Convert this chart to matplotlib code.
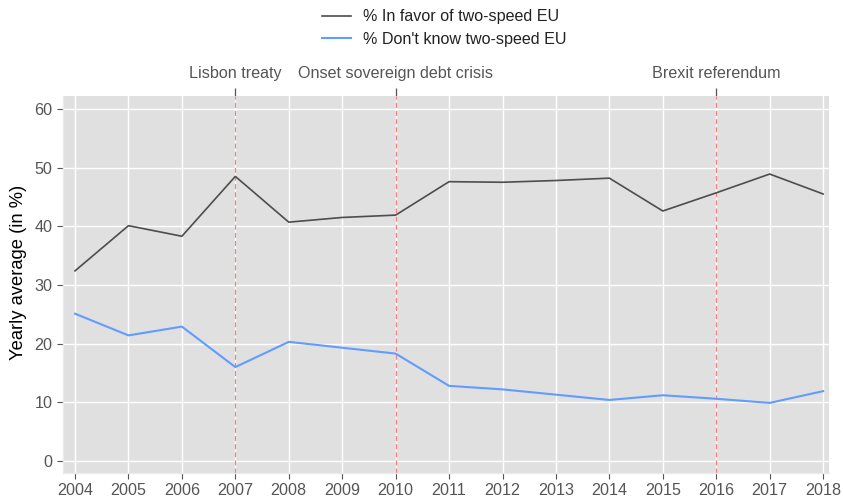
import matplotlib
matplotlib.use("Agg")
import matplotlib.pyplot as plt
from matplotlib.lines import Line2D

plt.rcParams['font.family'] = ['Liberation Sans', 'DejaVu Sans']

years = [2004, 2005, 2006, 2007, 2008, 2009, 2010, 2011, 2012, 2013, 2014, 2015, 2016, 2017, 2018]
in_favor = [32.4, 40.1, 38.3, 48.5, 40.7, 41.5, 41.9, 47.6, 47.5, 47.8, 48.2, 42.6, 45.7, 48.9, 45.5]
dont_know = [25.1, 21.4, 22.9, 16.0, 20.3, 19.3, 18.3, 12.8, 12.2, 11.3, 10.4, 11.2, 10.6, 9.9, 11.9]
event_years = [2007, 2010, 2016]
event_labels = ["Lisbon treaty", "Onset sovereign debt crisis", "Brexit referendum"]
series_labels = ["% In favor of two-speed EU", "% Don't know two-speed EU"]

W, H = 843, 503
fig = plt.figure(figsize=(W / 100, H / 100), dpi=100)
ax = fig.add_axes([63 / W, 1 - 473 / H, (829 - 63) / W, (473 - 96) / H])
ax.set_facecolor('#E0E0E0')

ax.grid(True, color='white', linewidth=1.0)
ax.set_axisbelow(True)

for s in ['top', 'right']:
    ax.spines[s].set_visible(False)
for s in ['left', 'bottom']:
    ax.spines[s].set_color('#EBEBEB')
    ax.spines[s].set_linewidth(1.0)

for ey in event_years:
    ax.axvline(ey, color='#F48080', linestyle=(0, (4, 2.5)), linewidth=0.9, zorder=2)

ax.plot(years, in_favor, color='#4D4D4D', linewidth=1.2, zorder=3)
ax.plot(years, dont_know, color='#619CFF', linewidth=1.5, zorder=3)

ax.set_xlim(2003.775, 2018.11)
ax.set_ylim(-2.05, 62.2)
ax.set_xticks(years)
ax.set_yticks([0, 10, 20, 30, 40, 50, 60])
ax.tick_params(axis='both', colors='#555555', labelsize=11.6, length=4.5, width=0.8)
ax.tick_params(axis='x', pad=3)
ax.tick_params(axis='y', pad=3)
ax.set_ylabel("Yearly average (in %)", fontsize=13.2, color='black')
ax.yaxis.set_label_coords(-0.047, 0.533)

sec = ax.secondary_xaxis('top')
sec.set_xticks(event_years)
sec.set_xticklabels(event_labels)
sec.tick_params(axis='x', colors='#555555', labelsize=11.6, length=6, width=0.9, pad=5)
sec.spines['top'].set_visible(False)

handles = [Line2D([], [], color='#4D4D4D', linewidth=1.2),
           Line2D([], [], color='#619CFF', linewidth=1.5)]
fig.legend(handles, series_labels, loc='upper center', bbox_to_anchor=(0.527, 1.01),
           frameon=False, fontsize=11.6, handlelength=1.8, labelspacing=0.45,
           handletextpad=0.75, labelcolor='#222222')

fig.savefig("out.png", dpi=100)
